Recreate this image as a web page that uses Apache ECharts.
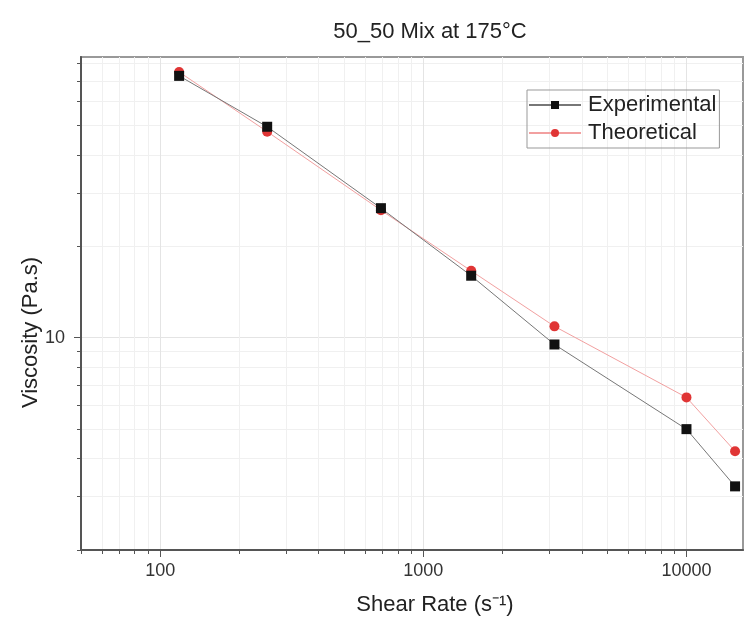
<!DOCTYPE html>
<html>
<head>
<meta charset="utf-8">
<script src="https://cdn.jsdelivr.net/npm/echarts@6/dist/echarts.min.js"></script>
<style>
html,body{margin:0;padding:0;background:#fff;}
#chart{width:747px;height:628px;}
</style>
</head>
<body>
<div id="chart"></div>
<script>
const shearRate = [118, 255, 690, 1520, 3150, 10000, 15300];
const experimental = [72.8, 49.5, 26.7, 16.0, 9.5, 5.0, 3.24];
const theoretical = [75.0, 47.7, 26.3, 16.6, 10.9, 6.36, 4.23];
const xMajorTicks = [100, 1000, 10000];
const xAllTicks = [50, 60, 70, 80, 90, 100, 200, 300, 400, 500, 600, 700, 800, 900,
  1000, 2000, 3000, 4000, 5000, 6000, 7000, 8000, 9000, 10000];
const yMajorTicks = [10];
const yAllTicks = [2, 3, 4, 5, 6, 7, 8, 9, 10, 20, 30, 40, 50, 60, 70, 80];

const font = 'Liberation Sans, Arial, sans-serif';
const plain = (v) => String(v);
const chart = echarts.init(document.getElementById('chart'));
chart.setOption({
  animation: false,
  backgroundColor: '#ffffff',
  title: {
    text: '50_50 Mix at 175°C',
    left: 425, textAlign: 'center', top: 16,
    textStyle: { fontFamily: font, fontSize: 22, fontWeight: 'normal', color: '#222' }
  },
  legend: {
    orient: 'vertical',
    left: 527, top: 90,
    padding: [4, 3, 4, 1],
    itemGap: 6,
    itemWidth: 52, itemHeight: 10,
    borderColor: '#999', borderWidth: 1,
    textStyle: { fontFamily: font, fontSize: 22, lineHeight: 22, color: '#222', padding: [0, 0, 0, 2] },
    data: ['Experimental', 'Theoretical']
  },
  grid: {
    left: 81, top: 57, right: 4, bottom: 78,
    show: true, borderColor: '#999', borderWidth: 2, backgroundColor: 'transparent'
  },
  xAxis: [{
    type: 'log', min: 50, max: 16400, logBase: 10,
    name: 'Shear Rate (s⁻¹)', nameLocation: 'middle', nameGap: 44, nameMoveOverlap: false,
    nameTextStyle: { fontFamily: font, fontSize: 22, color: '#222', padding: [0, 0, 0, 46] },
    axisLine: { show: true, lineStyle: { color: '#555', width: 2 } },
    axisTick: { show: true, inside: false, length: 4, customValues: xAllTicks, lineStyle: { color: '#555' } },
    axisLabel: { customValues: xMajorTicks, formatter: plain, margin: 12, fontFamily: font, fontSize: 18, color: '#333' },
    splitLine: { show: true, lineStyle: { color: '#f0f0f0', width: 1 } }
  }, {
    type: 'log', min: 50, max: 16400, logBase: 10, position: 'bottom',
    axisLine: { show: false },
    axisTick: { show: true, length: 7, customValues: xMajorTicks, lineStyle: { color: '#555' } },
    axisLabel: { show: false },
    splitLine: { show: true, lineStyle: { color: '#e4e4e4', width: 1 } }
  }],
  yAxis: [{
    type: 'log', min: 2, max: 84, logBase: 10,
    name: 'Viscosity (Pa.s)', nameLocation: 'middle', nameGap: 39, nameMoveOverlap: false,
    nameTextStyle: { fontFamily: font, fontSize: 22, color: '#222', padding: [0, 58, 0, 0] },
    axisLine: { show: true, lineStyle: { color: '#555', width: 2 } },
    axisTick: { show: true, inside: false, length: 4, customValues: yAllTicks, lineStyle: { color: '#555' } },
    axisLabel: { customValues: yMajorTicks, formatter: plain, margin: 16, fontFamily: font, fontSize: 18, color: '#333' },
    splitLine: { show: true, lineStyle: { color: '#f0f0f0', width: 1 } }
  }, {
    type: 'log', min: 2, max: 84, logBase: 10, position: 'left',
    axisLine: { show: false },
    axisTick: { show: true, length: 7, customValues: yMajorTicks, lineStyle: { color: '#555' } },
    axisLabel: { show: false },
    splitLine: { show: true, lineStyle: { color: '#e4e4e4', width: 1 } }
  }],
  series: [{
    name: 'Experimental', type: 'line',
    data: shearRate.map((x, i) => [x, experimental[i]]),
    symbol: 'rect', symbolSize: 10,
    itemStyle: { color: '#111' },
    lineStyle: { color: '#777', width: 1 },
    z: 3
  }, {
    name: 'Theoretical', type: 'line',
    data: shearRate.map((x, i) => [x, theoretical[i]]),
    symbol: 'circle', symbolSize: 10,
    itemStyle: { color: '#e03535' },
    lineStyle: { color: '#f2a0a0', width: 1 },
    z: 2
  }]
});
</script>
</body>
</html>
